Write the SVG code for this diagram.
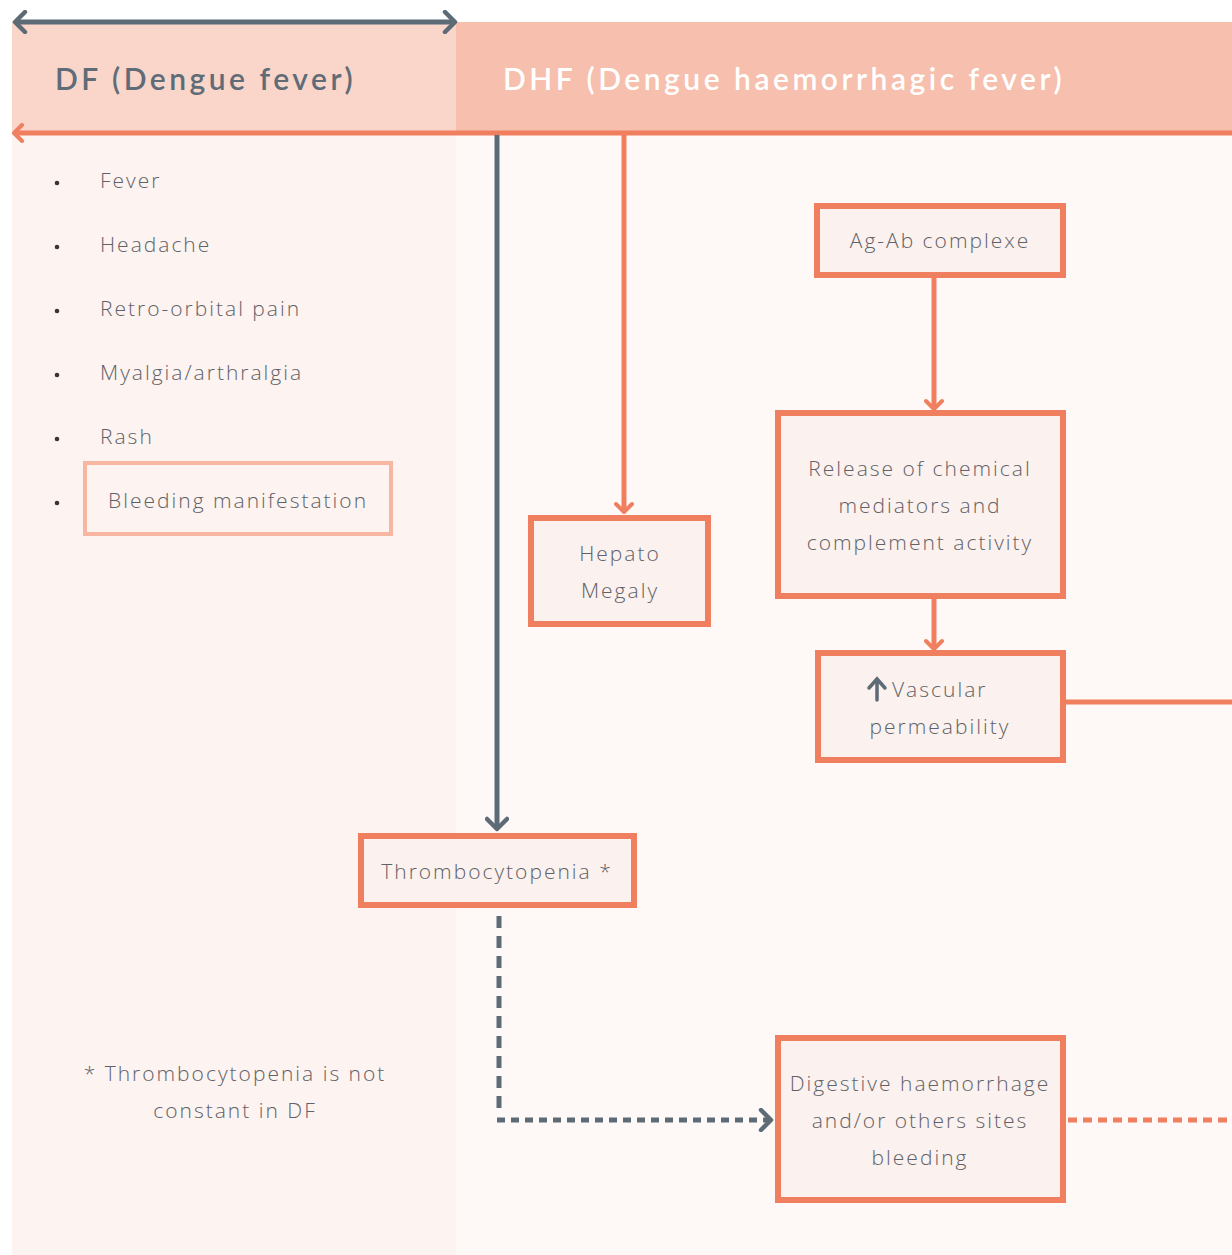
<svg xmlns="http://www.w3.org/2000/svg" width="1232" height="1255" viewBox="0 0 1232 1255">
<style>
.t{font-family:"Open Sans","Liberation Sans",sans-serif;font-size:21px;font-weight:300;fill:#5f6268;letter-spacing:2px}
.c{text-anchor:middle}
.box{fill:#fbf1ee;stroke:#f07f60;stroke-width:6}
.or{stroke:#f07f60;stroke-width:5;fill:none}
.gr{stroke:#5d6b76;stroke-width:5;fill:none}
.h{font-family:"Lato","Liberation Sans",sans-serif;font-size:30px;font-weight:600;letter-spacing:3.5px}
</style>
<defs>
<marker id="ao" viewBox="0 0 20 20" refX="17" refY="10" markerWidth="20" markerHeight="20" markerUnits="userSpaceOnUse" orient="auto-start-reverse">
<path d="M9 2 L17 10 L9 18" fill="none" stroke="#f07f60" stroke-width="4" stroke-linecap="round" stroke-linejoin="round"/></marker>
<marker id="ag" viewBox="0 0 24 24" refX="20" refY="12" markerWidth="24" markerHeight="24" markerUnits="userSpaceOnUse" orient="auto-start-reverse">
<path d="M10 2 L20 12 L10 22" fill="none" stroke="#5d6b76" stroke-width="4.5" stroke-linecap="round" stroke-linejoin="round"/></marker>
</defs>
<rect width="1232" height="1255" fill="#ffffff"/>
<rect x="12" y="22" width="444" height="1233" fill="#fdf3f0"/>
<rect x="456" y="22" width="776" height="1233" fill="#fef8f6"/>
<rect x="12" y="22" width="444" height="109" fill="#f9d5ca"/>
<rect x="456" y="22" width="776" height="109" fill="#f6bfae"/>
<text class="h" x="55" y="90" fill="#5f6c77">DF (Dengue fever)</text>
<text class="h" x="503" y="90" fill="#ffffff">DHF (Dengue haemorrhagic fever)</text>
<g id="connectors">
<line class="gr" x1="15" y1="22" x2="455" y2="22" marker-start="url(#ag)" marker-end="url(#ag)"/>
<line class="or" x1="14" y1="133" x2="1232" y2="133" marker-start="url(#ao)"/>
<line class="gr" x1="497" y1="135" x2="497" y2="829" marker-end="url(#ag)"/>
<line class="or" x1="624" y1="135" x2="624" y2="512" marker-end="url(#ao)"/>
<line class="or" x1="934" y1="276" x2="934" y2="409" marker-end="url(#ao)"/>
<line class="or" x1="934" y1="597" x2="934" y2="649" marker-end="url(#ao)"/>
<line class="or" x1="1064" y1="702" x2="1232" y2="702"/>
<path class="gr" d="M499 916 V1116" stroke-dasharray="12 8"/>
<path class="gr" d="M497 1120 H771" stroke-width="6" stroke-dasharray="8 6" marker-end="url(#ag)"/>
<line class="or" x1="1068" y1="1120" x2="1232" y2="1120" stroke-width="6" stroke-dasharray="9 6"/>
</g>
<g id="symptoms">
<g fill="#3a3535"><circle cx="57" cy="183" r="2.3"/><circle cx="57" cy="247" r="2.3"/><circle cx="57" cy="311" r="2.3"/><circle cx="57" cy="375" r="2.3"/><circle cx="57" cy="439" r="2.3"/><circle cx="57" cy="503" r="2.3"/></g>
<text class="t" x="100" y="188">Fever</text>
<text class="t" x="100" y="252">Headache</text>
<text class="t" x="100" y="316">Retro-orbital pain</text>
<text class="t" x="100" y="380">Myalgia/arthralgia</text>
<text class="t" x="100" y="444">Rash</text>
</g>
<g id="bleeding">
<rect x="85" y="463" width="306" height="71" fill="#fdf3f0" stroke="#f7b6a2" stroke-width="4"/>
<text class="t" x="108" y="508">Bleeding manifestation</text>
</g>
<g id="agab">
<rect class="box" x="817" y="206" width="246" height="69"/>
<text class="t c" x="940" y="248">Ag-Ab complexe</text>
</g>
<g id="release">
<rect class="box" x="778" y="413" width="285" height="183"/>
<text class="t c" x="920" y="476">Release of chemical</text>
<text class="t c" x="920" y="513">mediators and</text>
<text class="t c" x="920" y="550">complement activity</text>
</g>
<g id="hepato">
<rect class="box" x="531" y="518" width="177" height="106"/>
<text class="t c" x="620" y="561">Hepato</text>
<text class="t c" x="620" y="598">Megaly</text>
</g>
<g id="vascular">
<rect class="box" x="818" y="653" width="245" height="107"/>
<path d="M877 700 V680 M869 688 L877 679 L885 688" fill="none" stroke="#5d6b76" stroke-width="3.5" stroke-linecap="round"/>
<text class="t" x="892" y="697">Vascular</text>
<text class="t c" x="940" y="734">permeability</text>
</g>
<g id="thrombo">
<rect class="box" x="361" y="836" width="273" height="69"/>
<text class="t c" x="497" y="879">Thrombocytopenia *</text>
</g>
<g id="digestive">
<rect class="box" x="778" y="1038" width="285" height="162"/>
<text class="t c" x="920" y="1091">Digestive haemorrhage</text>
<text class="t c" x="920" y="1128">and/or others sites</text>
<text class="t c" x="920" y="1165">bleeding</text>
</g>
<g id="note">
<text class="t c" x="235" y="1081">* Thrombocytopenia is not</text>
<text class="t c" x="235" y="1118">constant in DF</text>
</g>
</svg>
